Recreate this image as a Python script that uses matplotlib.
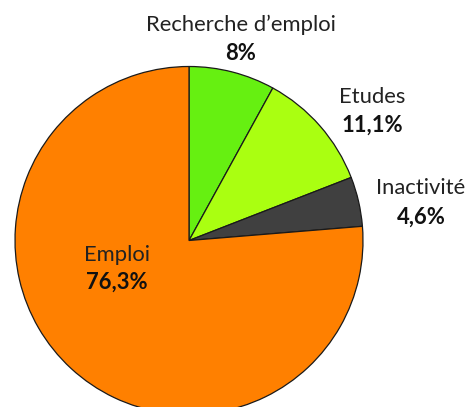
import matplotlib
matplotlib.use("Agg")
import matplotlib.pyplot as plt

categories = ["Recherche d\u2019emploi", "Etudes", "Inactivit\u00e9", "Emploi"]
values = [8.0, 11.1, 4.6, 76.3]
value_labels = ["8%", "11,1%", "4,6%", "76,3%"]
colors = ["#66F011", "#AAFF11", "#404040", "#FF8000"]

W, H = 467, 407
fig = plt.figure(figsize=(W / 100, H / 100), dpi=100)
ax = fig.add_axes([0, 0, 1, 1])

cx, cy, r = 189, H - 240.5, 174
ax.pie(values, colors=colors, startangle=90, counterclock=False,
       center=(cx, cy), radius=r, frame=True,
       wedgeprops=dict(edgecolor="#1a1a1a", linewidth=0.9))
ax.set_xlim(0, W)
ax.set_ylim(0, H)
ax.set_aspect("equal")
ax.axis("off")

font = ["Lato", "DejaVu Sans"]
fs = 15.8
pos = [(241, 25, 54), (372, 97, 125), (421, 188, 217), (117, 255, 282)]
for name, vl, (x, y1, y2) in zip(categories, value_labels, pos):
    ax.text(x, H - y1, name, ha="center", va="center", fontsize=fs,
            family=font, color="#222222")
    ax.text(x, H - y2, vl, ha="center", va="center", fontsize=fs,
            family=font, fontweight="bold", color="#111111")

fig.savefig("out.png", dpi=100)
